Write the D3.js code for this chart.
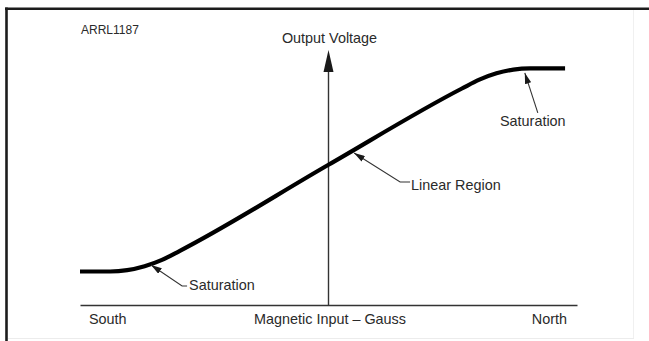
<!DOCTYPE html>
<html>
<head>
<meta charset="utf-8">
<script src="https://cdn.jsdelivr.net/npm/d3@7/dist/d3.min.js"></script>
<style>
  html, body { margin: 0; padding: 0; background: #fff; }
  svg { display: block; }
  text { font-family: "Liberation Sans", Arial, Helvetica, sans-serif; fill: #2a2a2a; }
</style>
</head>
<body>
<svg id="chart" width="649" height="341"></svg>
<script>
// Transfer curve of a linear Hall-effect sensor: magnetic input (South..North)
// against output voltage, relative units.
const gauss = [-100, -87.9, -81.0, -74.0, -67.0, -59.8, 0, 53.7, 60.7, 67.6, 74.4, 81.1, 95.2];
const volts = [13.14, 13.14, 13.65, 15.18, 17.69, 21.25, 55, 84.9, 88.37, 90.84, 92.33, 92.82, 92.82];

const figureId = "ARRL1187";
const xTitle = "Magnetic Input \u2013 Gauss";
const yTitle = "Output Voltage";
const xEndLabels = ["South", "North"];

// Callouts: text and the point on the curve that the arrow touches
const calloutText = ["Saturation", "Linear Region", "Saturation"];
const calloutGauss = [79, 10.3, -71.4];
const calloutVolts = [91.0, 59.6, 15.7];

const svg = d3.select("#chart");

const x = d3.scaleLinear().domain([-100, 100]).range([80, 577]);
const y = d3.scaleLinear().domain([0, 100]).range([305, 50]);

// arrowhead marker for the callout leaders
const defs = svg.append("defs");
defs.append("marker")
  .attr("id", "tipSmall").attr("viewBox", "0 0 10 6")
  .attr("refX", 10).attr("refY", 3)
  .attr("markerUnits", "userSpaceOnUse")
  .attr("markerWidth", 11).attr("markerHeight", 6.5)
  .attr("orient", "auto")
  .append("path").attr("d", "M0,0 L10,3 L0,6 Z").attr("fill", "#1a1a1a");

// frame
svg.append("line").attr("x1", 5).attr("x2", 649).attr("y1", 8.7).attr("y2", 8.7)
  .attr("stroke", "#1c1c1c").attr("stroke-width", 2.6);
svg.append("line").attr("x1", 6.5).attr("x2", 6.5).attr("y1", 7.5).attr("y2", 341)
  .attr("stroke", "#1c1c1c").attr("stroke-width", 2.6);
svg.append("line").attr("x1", 633.5).attr("x2", 633.5).attr("y1", 10).attr("y2", 338)
  .attr("stroke", "#f0f0f0").attr("stroke-width", 1);
svg.append("line").attr("x1", 8).attr("x2", 634).attr("y1", 338.5).attr("y2", 338.5)
  .attr("stroke", "#ececec").attr("stroke-width", 1);

// horizontal axis (no ticks)
const xAxis = d3.axisBottom(x).tickValues([]).tickSizeOuter(0);
svg.append("g").attr("transform", `translate(0,${y(0)})`).call(xAxis)
  .call(g => g.select(".domain").attr("stroke", "#333").attr("stroke-width", 1.4));

// vertical axis with arrow at the top
const yAxisX = x(0);
svg.append("line")
  .attr("x1", yAxisX).attr("x2", yAxisX)
  .attr("y1", y(0)).attr("y2", y(100) + 18)
  .attr("stroke", "#333").attr("stroke-width", 1.4);
svg.append("path")
  .attr("d", `M${yAxisX},${y(100)} L${yAxisX + 5},${y(100) + 22} L${yAxisX - 5},${y(100) + 22} Z`)
  .attr("fill", "#1a1a1a");

// transfer curve
const pts = gauss.map((g, i) => [g, volts[i]]);
svg.append("path")
  .datum(pts)
  .attr("fill", "none")
  .attr("stroke", "#000")
  .attr("stroke-width", 4.2)
  .attr("stroke-linecap", "butt")
  .attr("d", d3.line().x(d => x(d[0])).y(d => y(d[1])).curve(d3.curveMonotoneX));

// texts
const fs = 14.4;
svg.append("text").attr("x", 81).attr("y", 34).attr("font-size", 12).text(figureId);
svg.append("text").attr("x", yAxisX + 1).attr("y", 43).attr("text-anchor", "middle")
  .attr("font-size", fs).text(yTitle);
svg.append("text").attr("x", (x(-100) + x(100)) / 2 + 1.5).attr("y", 324)
  .attr("text-anchor", "middle").attr("font-size", fs).text(xTitle);
svg.append("text").attr("x", x(-100) + 9).attr("y", 324)
  .attr("font-size", fs).text(xEndLabels[0]);
svg.append("text").attr("x", x(100) - 10).attr("y", 324).attr("text-anchor", "end")
  .attr("font-size", fs).text(xEndLabels[1]);

// callouts
const tips = calloutGauss.map((g, i) => [x(g), y(calloutVolts[i])]);
const leader = d3.line();

// upper saturation: leader rises from the label to the knee
{
  const [tx, ty] = tips[0];
  svg.append("path").attr("d", leader([[tx + 13, ty + 40], [tx, ty]]))
    .attr("fill", "none").attr("stroke", "#333").attr("stroke-width", 1.1)
    .attr("marker-end", "url(#tipSmall)");
  svg.append("text").attr("x", tx + 8).attr("y", ty + 53).attr("text-anchor", "middle")
    .attr("font-size", fs).text(calloutText[0]);
}
// linear region
{
  const [tx, ty] = tips[1];
  svg.append("path").attr("d", leader([[tx + 56, ty + 29], [tx + 46, ty + 29], [tx, ty]]))
    .attr("fill", "none").attr("stroke", "#333").attr("stroke-width", 1.1)
    .attr("marker-end", "url(#tipSmall)");
  svg.append("text").attr("x", tx + 57).attr("y", ty + 37)
    .attr("font-size", fs).text(calloutText[1]);
}
// lower saturation
{
  const [tx, ty] = tips[2];
  svg.append("path").attr("d", leader([[tx + 36, ty + 21], [tx + 31, ty + 21], [tx, ty]]))
    .attr("fill", "none").attr("stroke", "#333").attr("stroke-width", 1.1)
    .attr("marker-end", "url(#tipSmall)");
  svg.append("text").attr("x", tx + 38).attr("y", ty + 25.5)
    .attr("font-size", fs).text(calloutText[2]);
}
</script>
</body>
</html>
